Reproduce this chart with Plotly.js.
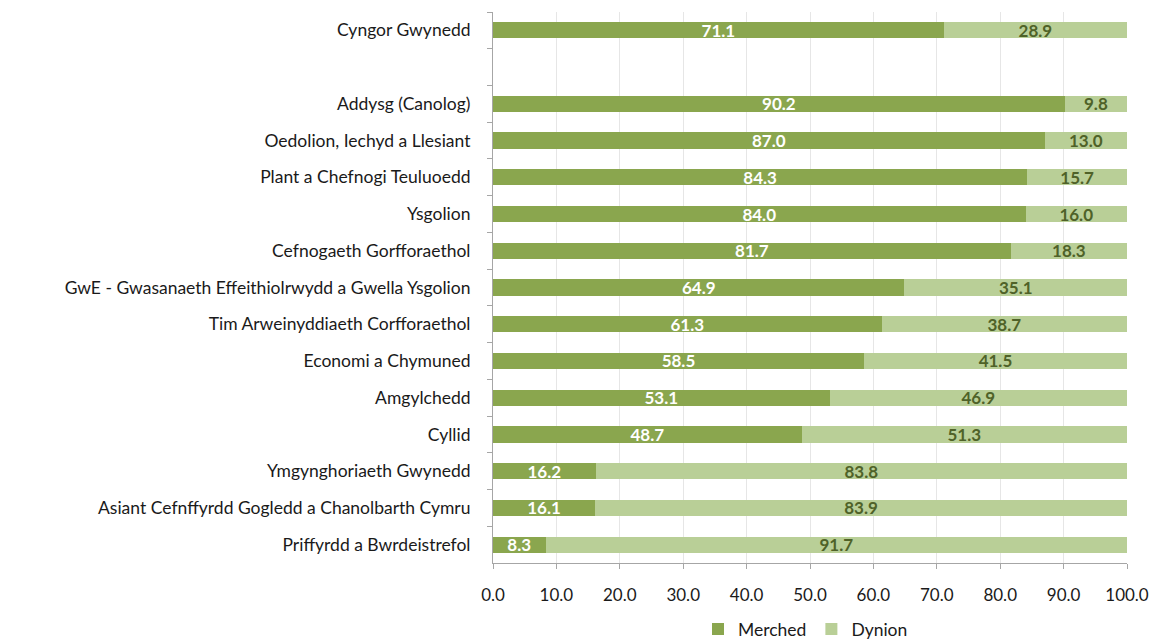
<!DOCTYPE html>
<html><head><meta charset="utf-8">
<script src="https://cdn.plot.ly/plotly-3.0.1.min.js"></script>
<style>body{margin:0;background:#fff}#c{width:1154px;height:639px}</style>
</head><body><div id="c"></div>
<script>
const categories = ["Cyngor Gwynedd", " ", "Addysg (Canolog)", "Oedolion, Iechyd a Llesiant", "Plant a Chefnogi Teuluoedd", "Ysgolion", "Cefnogaeth Gorfforaethol", "GwE - Gwasanaeth Effeithiolrwydd a Gwella Ysgolion", "Tim Arweinyddiaeth Corfforaethol", "Economi a Chymuned", "Amgylchedd", "Cyllid", "Ymgynghoriaeth Gwynedd", "Asiant Cefnffyrdd Gogledd a Chanolbarth Cymru", "Priffyrdd a Bwrdeistrefol"];
const merched = [71.1, null, 90.2, 87.0, 84.3, 84.0, 81.7, 64.9, 61.3, 58.5, 53.1, 48.7, 16.2, 16.1, 8.3];
const dynion = [28.9, null, 9.8, 13.0, 15.7, 16.0, 18.3, 35.1, 38.7, 41.5, 46.9, 51.3, 83.8, 83.9, 91.7];
const xTicks = [0, 10, 20, 30, 40, 50, 60, 70, 80, 90, 100];

const font = "Lato, 'Open Sans', sans-serif";
const traces = [
  {type:"bar", orientation:"h", name:"Merched", y:categories, x:merched,
   marker:{color:"#8aa64e"}, texttemplate:"%{x:.1f}", textposition:"inside", insidetextanchor:"middle",
   textfont:{color:"#ffffff", size:17, family:font, weight:"bold"}, cliponaxis:false, hoverinfo:"skip"},
  {type:"bar", orientation:"h", name:"Dynion", y:categories, x:dynion,
   marker:{color:"#b9cf97"}, texttemplate:"%{x:.1f}", textposition:"inside", insidetextanchor:"middle",
   textfont:{color:"#4f6228", size:17, family:font, weight:"bold"}, cliponaxis:false, hoverinfo:"skip"}
];
const layout = {
  width:1154, height:639, barmode:"stack", bargap:0.56,
  margin:{l:493, r:27, t:12, b:76, autoexpand:false},
  paper_bgcolor:"#fff", plot_bgcolor:"#fff",
  font:{family:font, size:17, color:"#1a1a1a"},
  uniformtext:{minsize:17, mode:"show"},
  xaxis:{range:[0,100], tickvals:xTicks, ticktext:xTicks.map(v=>v.toFixed(1)), showgrid:true, gridcolor:"#e6e6e6", gridwidth:1,
         showline:true, linecolor:"#a6a6a6", ticks:"outside", ticklen:5, tickcolor:"#a6a6a6", zeroline:false,
         tickfont:{size:17, family:font, color:"#1a1a1a"}, ticklabelstandoff:12, fixedrange:true},
  yaxis:{type:"category", categoryorder:"array", categoryarray:categories, autorange:"reversed",
         showline:true, linecolor:"#a6a6a6", ticks:"outside", ticklen:5, tickcolor:"#a6a6a6", tickson:"boundaries",
         showgrid:false, tickfont:{size:17.5, family:font, color:"#1a1a1a"}, ticklabelstandoff:18},
  showlegend:true,
  legend:{orientation:"h", x:0.698, xref:"container", xanchor:"center", y:-0.12, yanchor:"middle",
          font:{size:17.5, family:font}, traceorder:"normal"}
};
Plotly.newPlot("c", traces, layout, {displayModeBar:false, staticPlot:true});
</script></body></html>
